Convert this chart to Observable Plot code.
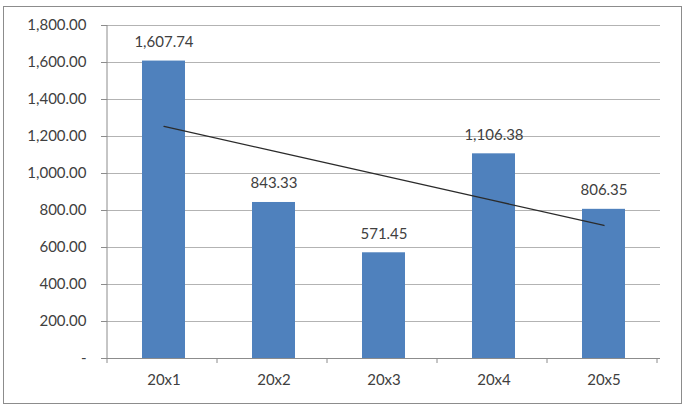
<!DOCTYPE html>
<html>
<head>
<meta charset="utf-8">
<script src="https://cdn.jsdelivr.net/npm/d3@7"></script>
<script src="https://cdn.jsdelivr.net/npm/@observablehq/plot@0.6"></script>
<style>
  body { margin: 0; background: #fff; }
  #wrap { position: relative; width: 686px; height: 405px; }
  #border { position: absolute; left: 3px; top: 6px; width: 677px; height: 396px; border: 1px solid #8c8c8c; pointer-events: none; }
</style>
</head>
<body>
<div id="wrap"><div id="border"></div></div>
<script>
const categories = ["20x1", "20x2", "20x3", "20x4", "20x5"];
const values = [1607.74, 843.33, 571.45, 1106.38, 806.35];
const yTicks = [0, 200, 400, 600, 800, 1000, 1200, 1400, 1600, 1800];

const data = categories.map((c, i) => ({cat: c, value: values[i]}));

// linear trendline (least squares over category index)
const xs = values.map((_, i) => i + 1);
const mx = d3.mean(xs), my = d3.mean(values);
const slope = d3.sum(xs, (x, i) => (x - mx) * (values[i] - my)) / d3.sum(xs, x => (x - mx) ** 2);
const intercept = my - slope * mx;
const trend = categories.map((c, i) => ({cat: c, value: intercept + slope * (i + 1)}));

const fmt = d3.format(",.2f");
const font = "Lato, 'Open Sans', sans-serif";

const chart = Plot.plot({
  width: 686,
  height: 405,
  marginLeft: 107,
  marginRight: 26,
  marginTop: 25,
  marginBottom: 47,
  style: {fontFamily: font, fontSize: "15px", color: "#404040", background: "transparent"},
  x: {domain: categories, paddingInner: 0.61, paddingOuter: 0.305, label: null},
  y: {domain: [0, 1800], label: null},
  marks: [
    Plot.gridY(yTicks, {stroke: "#b3b3b3", strokeOpacity: 1}),
    Plot.axisY(yTicks, {tickFormat: d => d === 0 ? "-" : fmt(d), tickSize: 6, tickPadding: 15, stroke: "#8c8c8c", fontSize: 15, fill: "#404040"}),
    Plot.axisX({tickSize: 0, tickPadding: 16, fontSize: 15, fill: "#404040"}),
    Plot.barY(data, {x: "cat", y: "value", fill: "#4f81bd"}),
    Plot.ruleY([0], {stroke: "#8c8c8c"}),
    Plot.line(trend, {x: "cat", y: "value", stroke: "#2b2b2b", strokeWidth: 1.3}),
    Plot.text(data, {x: "cat", y: "value", text: d => fmt(d.value), dy: -19, fontSize: 15, fill: "#404040"})
  ]
});

// left axis line and band-boundary ticks on the x axis, via the plot's scales
const xsc = chart.scale("x");
const ysc = chart.scale("y");
const svg = d3.select(chart);
const step = xsc.step;
const x0 = xsc.range[0];
const y0 = ysc.apply(0), yTop = ysc.apply(1800);
svg.append("line").attr("x1", x0).attr("x2", x0).attr("y1", yTop).attr("y2", y0 + 5).attr("stroke", "#8c8c8c");
for (let k = 1; k <= categories.length; k++) {
  const x = x0 + k * step;
  svg.append("line").attr("x1", x).attr("x2", x).attr("y1", y0).attr("y2", y0 + 5).attr("stroke", "#8c8c8c");
}
document.getElementById("wrap").appendChild(chart);
</script>
</body>
</html>
